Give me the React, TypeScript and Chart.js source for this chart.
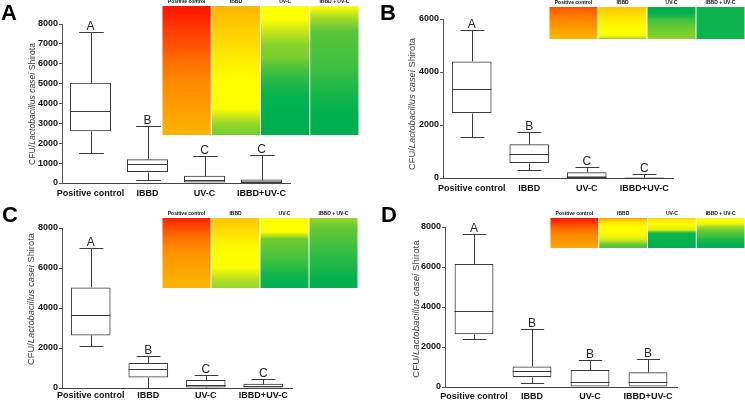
import React, { useEffect, useRef } from "react";
import { Chart, registerables } from "chart.js";
Chart.register(...registerables);

const FONT = "'Liberation Sans', Arial, Helvetica, sans-serif";

// ---------- DATA ----------
const categories = ["Positive control", "IBBD", "UV-C", "IBBD+UV-C"];
const heatCategories = ["Positive control", "IBBD", "UV-C", "IBBD + UV-C"];

// box statistics per group: [min, Q1, median, Q3, max]
const statsA = [
  [1500, 2600, 3620, 5050, 7600],
  [150, 550, 950, 1200, 2880],
  [0, 0, 130, 370, 1340],
  [0, 0, 40, 170, 1390],
];
const statsB = [
  [1530, 2450, 3350, 4400, 5600],
  [290, 565, 915, 1270, 1730],
  [0, 0, 25, 215, 415],
  [0, 0, 12, 38, 150],
];
const statsC = [
  [2080, 2630, 3630, 5030, 7000],
  [20, 530, 950, 1250, 1600],
  [0, 30, 150, 400, 650],
  [0, 0, 80, 215, 450],
];
const statsD = [
  [2390, 2640, 3780, 6150, 7630],
  [185, 500, 815, 1030, 2890],
  [0, 0, 270, 850, 1350],
  [0, 0, 235, 735, 1400],
];

const lettersA = ["A", "B", "C", "C"];
const lettersB = ["A", "B", "C", "C"];
const lettersC = ["A", "B", "C", "C"];
const lettersD = ["A", "B", "B", "B"];

const yMaxA = 8000, yStepA = 1000;
const yMaxB = 6000, yStepB = 2000;
const yMaxC = 8000, yStepC = 2000;
const yMaxD = 8000, yStepD = 2000;

// heat-map intensity (0 = low/green, 0.5 = yellow, 1 = high/red), top to bottom
const heatA = [
  [1.0, 0.97, 0.93, 0.9, 0.86, 0.83, 0.8, 0.78, 0.75, 0.72, 0.69],
  [0.68, 0.64, 0.6, 0.57, 0.54, 0.52, 0.5, 0.5, 0.49, 0.3, 0.2],
  [0.5, 0.5, 0.38, 0.25, 0.22, 0.1, 0.05, 0.01, 0, 0, 0],
  [0.5, 0.3, 0.15, 0.13, 0.11, 0.09, 0.06, 0.03, 0.01, 0, 0],
];
const heatB = [
  [0.9, 0.87, 0.85, 0.83, 0.81, 0.79, 0.77, 0.74, 0.72, 0.7, 0.68],
  [0.62, 0.6, 0.58, 0.56, 0.54, 0.52, 0.51, 0.5, 0.5, 0.5, 0.25],
  [0, 0, 0, 0.05, 0.1, 0.13, 0.17, 0.2, 0.22, 0.24, 0.26],
  [0.02, 0.02, 0.02, 0.02, 0.02, 0.02, 0.02, 0.02, 0.02, 0.02, 0.02],
];
const heatC = [
  [0.98, 0.93, 0.88, 0.84, 0.81, 0.78, 0.76, 0.74, 0.72, 0.7, 0.69],
  [0.63, 0.6, 0.57, 0.54, 0.51, 0.5, 0.5, 0.5, 0.42, 0.32, 0.28],
  [0.5, 0.5, 0.5, 0.2, 0.17, 0.14, 0.1, 0.07, 0.03, 0.01, 0],
  [0.3, 0.2, 0.16, 0.13, 0.1, 0.08, 0.06, 0.04, 0.02, 0, 0],
];
const heatD = [
  [1.0, 0.96, 0.92, 0.88, 0.85, 0.82, 0.8, 0.78, 0.76, 0.74, 0.72],
  [0.75, 0.58, 0.53, 0.5, 0.5, 0.5, 0.47, 0.43, 0.3, 0.15, 0.12],
  [0.58, 0.54, 0.5, 0.46, 0.43, 0.03, 0.02, 0.01, 0, 0, 0],
  [0.5, 0.5, 0.45, 0.3, 0.2, 0.14, 0.1, 0.05, 0.02, 0, 0],
];

// ---------- STYLE ----------
const heatStops: [number, number[]][] = [
  [0, [0, 176, 80]],
  [0.1, [64, 192, 64]],
  [0.2, [112, 204, 48]],
  [0.3, [160, 216, 40]],
  [0.4, [208, 232, 24]],
  [0.5, [255, 255, 0]],
  [0.6, [255, 208, 0]],
  [0.7, [255, 176, 0]],
  [0.8, [255, 140, 0]],
  [0.9, [255, 80, 0]],
  [1.0, [255, 20, 0]],
];
function heatColor(v: number) {
  const t = Math.max(0, Math.min(1, v));
  for (let i = 0; i < heatStops.length - 1; i++) {
    const [a, ca] = heatStops[i];
    const [b, cb] = heatStops[i + 1];
    if (t <= b) {
      const f = (t - a) / (b - a);
      const c = ca.map((x, k) => Math.round(x + (cb[k] - x) * f));
      return `rgb(${c[0]},${c[1]},${c[2]})`;
    }
  }
  return "rgb(255,20,0)";
}

const LINE = "#3a3a3a";

const boxPlugin = {
  id: "boxWhisker",
  afterDatasetsDraw(chart: any, _args: any, opts: any) {
    const ctx = chart.ctx;
    const ys = chart.scales.y;
    const meta = chart.getDatasetMeta(0);
    const py = (v: number) => Math.round(ys.getPixelForValue(v)) + 0.5;
    ctx.save();
    ctx.strokeStyle = LINE;
    ctx.lineWidth = 1;
    meta.data.forEach((bar: any, i: number) => {
      const [mn, q1, md, q3, mx] = opts.stats[i];
      const x = Math.round(bar.x) + 0.5;
      const half = bar.width / 2;
      const capHalf = bar.width * 0.3;
      ctx.beginPath();
      ctx.moveTo(x, py(q3));
      ctx.lineTo(x, py(mx));
      ctx.moveTo(x - capHalf, py(mx));
      ctx.lineTo(x + capHalf, py(mx));
      if (mn < q1) {
        ctx.moveTo(x, py(q1));
        ctx.lineTo(x, py(mn));
        ctx.moveTo(x - capHalf, py(mn));
        ctx.lineTo(x + capHalf, py(mn));
      }
      ctx.moveTo(bar.x - half, py(md));
      ctx.lineTo(bar.x + half, py(md));
      ctx.stroke();
      ctx.fillStyle = "#2a2a2a";
      ctx.font = `12px ${FONT}`;
      ctx.textAlign = "center";
      ctx.textBaseline = "alphabetic";
      ctx.fillText(opts.letters[i], bar.x, py(mx) - 2.5);
    });
    ctx.restore();
  },
};

type Box = { left: number; top: number; width: number; height: number };
type Area = { left: number; top: number; right: number; bottom: number };

function BoxPanel(props: {
  stats: number[][];
  letters: string[];
  yMax: number;
  yStep: number;
  canvas: Box;
  area: Area;
  xDash: number[];
  xPad: number;
  boxPct: number;
}) {
  const ref = useRef<HTMLCanvasElement>(null);
  const { stats, letters, yMax, yStep, canvas, area, xDash, xPad, boxPct } = props;
  useEffect(() => {
    const yW = area.left - canvas.left;
    const xH = canvas.top + canvas.height - area.bottom;
    const chart = new Chart(ref.current as HTMLCanvasElement, {
      type: "bar",
      data: {
        labels: categories,
        datasets: [
          {
            data: stats.map((s) => [s[1], s[3]]) as any,
            backgroundColor: "rgba(255,255,255,0)",
            borderColor: LINE,
            borderWidth: 1,
            borderSkipped: false,
            barPercentage: boxPct,
            categoryPercentage: 1,
          },
        ],
      },
      options: {
        animation: false,
        responsive: false,
        maintainAspectRatio: false,
        layout: {
          padding: {
            left: 0,
            bottom: 0,
            top: area.top - canvas.top,
            right: canvas.left + canvas.width - area.right,
          },
        },
        plugins: {
          legend: { display: false },
          tooltip: { enabled: false },
          boxWhisker: { stats, letters },
        } as any,
        scales: {
          x: {
            grid: { display: false, drawTicks: false },
            border: { display: true, color: "#444", width: 1, dash: xDash },
            ticks: {
              font: { family: FONT, size: 9, weight: "bold" },
              color: "#111",
              padding: xPad,
              maxRotation: 0,
              autoSkip: false,
            },
            afterFit: (s: any) => {
              s.height = xH;
            },
          },
          y: {
            min: 0,
            max: yMax,
            grid: {
              display: true,
              drawOnChartArea: false,
              drawTicks: true,
              tickLength: 3,
              color: "#555",
            },
            border: { display: true, color: "#555", width: 1 },
            ticks: {
              stepSize: yStep,
              font: { family: FONT, size: 9, weight: "bold" },
              color: "#111",
              padding: 1,
              callback: (v: any) => String(v),
            },
            afterFit: (s: any) => {
              s.width = yW;
            },
          },
        },
      },
      plugins: [boxPlugin],
    });
    return () => chart.destroy();
  }, []);
  return (
    <canvas
      ref={ref}
      width={canvas.width}
      height={canvas.height}
      style={{
        position: "absolute",
        left: canvas.left,
        top: canvas.top,
        width: canvas.width,
        height: canvas.height,
      }}
    />
  );
}

function HeatPanel(props: { heat: number[][]; canvas: Box; labelH: number }) {
  const ref = useRef<HTMLCanvasElement>(null);
  const { heat, canvas, labelH } = props;
  useEffect(() => {
    const chart = new Chart(ref.current as HTMLCanvasElement, {
      type: "bar",
      data: {
        labels: heatCategories,
        datasets: [
          {
            data: heat.map(() => 1),
            backgroundColor: (c: any) => {
              const ch = c.chart;
              const ys = ch.scales.y;
              if (!ys || !ch.chartArea) return heatColor(heat[c.dataIndex][0]);
              const top = ys.getPixelForValue(1);
              const bot = ys.getPixelForValue(0);
              const g = ch.ctx.createLinearGradient(0, top, 0, bot);
              const vals = heat[c.dataIndex];
              vals.forEach((v, k) => g.addColorStop(k / (vals.length - 1), heatColor(v)));
              return g;
            },
            borderWidth: 0,
            barPercentage: 1,
            categoryPercentage: 0.98,
          },
        ],
      },
      options: {
        animation: false,
        responsive: false,
        maintainAspectRatio: false,
        layout: { padding: 0 },
        plugins: { legend: { display: false }, tooltip: { enabled: false } },
        scales: {
          x: {
            position: "top",
            grid: { display: false, drawTicks: false },
            border: { display: false },
            ticks: {
              font: { family: FONT, size: 5, weight: "bold" },
              color: "#111",
              padding: 1,
              maxRotation: 0,
              autoSkip: false,
            },
            afterFit: (s: any) => {
              s.height = labelH;
            },
          },
          y: { display: false, min: 0, max: 1 },
        },
      },
    });
    return () => chart.destroy();
  }, []);
  return (
    <canvas
      ref={ref}
      width={canvas.width}
      height={canvas.height}
      style={{
        position: "absolute",
        left: canvas.left,
        top: canvas.top,
        width: canvas.width,
        height: canvas.height,
      }}
    />
  );
}

function YTitle(props: { x: number; y: number; size: number }) {
  return (
    <div
      style={{
        position: "absolute",
        left: props.x,
        top: props.y,
        transform: "translate(-50%, -50%) rotate(-90deg)",
        whiteSpace: "nowrap",
        fontFamily: FONT,
        fontSize: props.size,
        color: "#444",
        lineHeight: 1,
      }}
    >
      CFU/<i>Lactobacillus casei</i> Shirota
    </div>
  );
}

function PanelLetter(props: { x: number; y: number; text: string }) {
  return (
    <div
      style={{
        position: "absolute",
        left: props.x,
        top: props.y,
        fontFamily: FONT,
        fontWeight: "bold",
        fontSize: 22,
        lineHeight: 1,
        color: "#000",
      }}
    >
      {props.text}
    </div>
  );
}

export default function App() {
  return (
    <div
      style={{
        position: "absolute",
        left: 0,
        top: 0,
        width: 745,
        height: 401,
        background: "#fff",
        overflow: "hidden",
      }}
    >
      <BoxPanel
        stats={statsA}
        letters={lettersA}
        yMax={yMaxA}
        yStep={yStepA}
        canvas={{ left: 0, top: 0, width: 300, height: 200 }}
        area={{ left: 62, top: 24, right: 290, bottom: 183 }}
        xDash={[]}
        xPad={5}
        boxPct={0.72}
      />
      <BoxPanel
        stats={statsB}
        letters={lettersB}
        yMax={yMaxB}
        yStep={yStepB}
        canvas={{ left: 380, top: 0, width: 300, height: 200 }}
        area={{ left: 443, top: 19, right: 673, bottom: 178 }}
        xDash={[1, 1]}
        xPad={5}
        boxPct={0.69}
      />
      <BoxPanel
        stats={statsC}
        letters={lettersC}
        yMax={yMaxC}
        yStep={yStepC}
        canvas={{ left: 0, top: 200, width: 300, height: 201 }}
        area={{ left: 62, top: 228, right: 292, bottom: 388 }}
        xDash={[1, 1]}
        xPad={2}
        boxPct={0.69}
      />
      <BoxPanel
        stats={statsD}
        letters={lettersD}
        yMax={yMaxD}
        yStep={yStepD}
        canvas={{ left: 380, top: 200, width: 300, height: 201 }}
        area={{ left: 445, top: 227, right: 677, bottom: 387 }}
        xDash={[1, 1]}
        xPad={4}
        boxPct={0.67}
      />
      <HeatPanel heat={heatA} canvas={{ left: 162, top: 0, width: 197, height: 135 }} labelH={6} />
      <HeatPanel heat={heatB} canvas={{ left: 549, top: 0, width: 196, height: 39 }} labelH={7} />
      <HeatPanel heat={heatC} canvas={{ left: 162, top: 210, width: 196, height: 78 }} labelH={8} />
      <HeatPanel heat={heatD} canvas={{ left: 550, top: 210, width: 195, height: 38 }} labelH={8} />
      <YTitle x={32} y={104} size={8.6} />
      <YTitle x={413} y={104} size={9.3} />
      <YTitle x={32} y={299} size={9.3} />
      <YTitle x={416} y={309} size={9.7} />
      <PanelLetter x={1} y={2} text="A" />
      <PanelLetter x={380} y={2} text="B" />
      <PanelLetter x={2} y={204} text="C" />
      <PanelLetter x={381} y={204} text="D" />
    </div>
  );
}
